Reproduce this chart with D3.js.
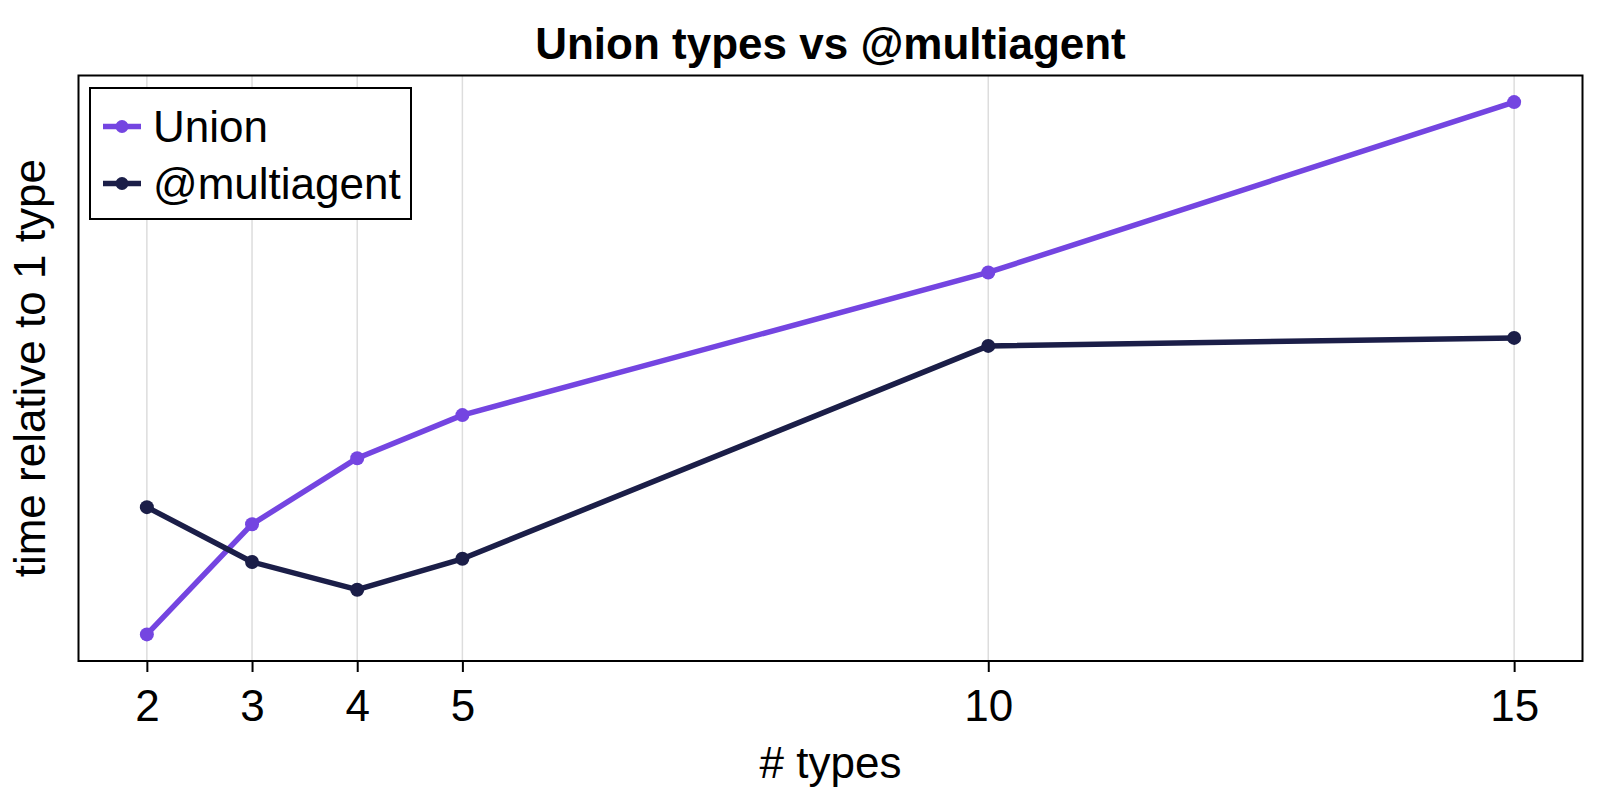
<!DOCTYPE html>
<meta charset="utf-8">
<title>Union types vs @multiagent</title>
<style>
  body { margin: 0; background: #fff; }
  text { font-family: "Liberation Sans", Arial, Helvetica, sans-serif; fill: #000; }
</style>
<body>
<div id="chart"></div>
<script src="https://cdn.jsdelivr.net/npm/d3@7"></script>
<script>

// data
var nTypes = [2, 3, 4, 5, 10, 15];
var unionTimes = [1.000, 1.207, 1.331, 1.412, 1.680, 2.000];
var multiagentTimes = [1.239, 1.136, 1.084, 1.142, 1.542, 1.557];
var seriesNames = ["Union", "@multiagent"];
var seriesColors = ["#7445e1", "#1b1e48"];

// dimensões
var W = 1600, H = 800;
var margin = {top: 75.5, right: 17.5, bottom: 139, left: 78.5},
    width = W - margin.left - margin.right,
    height = H - margin.top - margin.bottom;
var fs = 44;

var svg = d3.select("#chart").append("svg")
    .attr("width", W)
    .attr("height", H);

var g = svg.append("g")
    .attr("transform", "translate(" + margin.left + "," + margin.top + ")");

// escalas (5% de folga como no Makie)
var xr = d3.extent(nTypes), xpad = (xr[1] - xr[0]) * 0.05;
var x = d3.scaleLinear()
    .domain([xr[0] - xpad, xr[1] + xpad])
    .range([0, width]);

var all = unionTimes.concat(multiagentTimes);
var yr = d3.extent(all), ypad = (yr[1] - yr[0]) * 0.05;
var y = d3.scaleLinear()
    .domain([yr[0] - ypad, yr[1] + ypad])
    .range([height, 0]);

// grade vertical
g.selectAll(".grid")
    .data(nTypes)
    .enter().append("line")
      .attr("x1", function(d) { return x(d); })
      .attr("x2", function(d) { return x(d); })
      .attr("y1", 0)
      .attr("y2", height)
      .attr("stroke", "#dddddd")
      .attr("stroke-width", 1.5);

// eixo x
var xAxis = g.append("g")
    .attr("transform", "translate(0," + height + ")")
    .call(d3.axisBottom(x).tickValues(nTypes).tickSize(11).tickPadding(18).tickFormat(d3.format("d")));
xAxis.select(".domain").remove();
xAxis.selectAll(".tick line").attr("stroke", "#000").attr("stroke-width", 2);
xAxis.selectAll(".tick text").attr("font-size", fs).attr("fill", "#000")
    .style("font-family", "'Liberation Sans', Arial, sans-serif");

// linhas
var line = d3.line()
    .x(function(d, i) { return x(nTypes[i]); })
    .y(function(d) { return y(d); });

[unionTimes, multiagentTimes].forEach(function(vals, k) {
  g.append("path")
      .datum(vals)
      .attr("d", line)
      .attr("fill", "none")
      .attr("stroke", seriesColors[k])
      .attr("stroke-width", 5.5)
      .attr("stroke-linejoin", "round");
  g.selectAll(".pt" + k)
      .data(vals)
      .enter().append("circle")
        .attr("cx", function(d, i) { return x(nTypes[i]); })
        .attr("cy", function(d) { return y(d); })
        .attr("r", 7)
        .attr("fill", seriesColors[k]);
});

// moldura
g.append("rect")
    .attr("width", width)
    .attr("height", height)
    .attr("fill", "none")
    .attr("stroke", "#000")
    .attr("stroke-width", 2);

// legenda
var leg = g.append("g").attr("transform", "translate(11.5,12.5)");
leg.append("rect")
    .attr("width", 321)
    .attr("height", 131)
    .attr("fill", "#fff")
    .attr("stroke", "#000")
    .attr("stroke-width", 2);
seriesNames.forEach(function(name, k) {
  var yy = 38.5 + k * 57;
  leg.append("line")
      .attr("x1", 13).attr("x2", 51)
      .attr("y1", yy).attr("y2", yy)
      .attr("stroke", seriesColors[k])
      .attr("stroke-width", 5.5);
  leg.append("circle")
      .attr("cx", 32).attr("cy", yy).attr("r", 6.5)
      .attr("fill", seriesColors[k]);
  leg.append("text")
      .attr("x", 63).attr("y", yy)
      .attr("dy", "0.36em")
      .attr("font-size", fs)
      .text(name);
});

// título e rótulos
svg.append("text")
    .attr("x", margin.left + width / 2)
    .attr("y", 59)
    .attr("text-anchor", "middle")
    .attr("font-size", fs)
    .attr("font-weight", "bold")
    .text("Union types vs @multiagent");

svg.append("text")
    .attr("x", margin.left + width / 2)
    .attr("y", 778)
    .attr("text-anchor", "middle")
    .attr("font-size", fs)
    .text("# types");

svg.append("text")
    .attr("transform", "translate(45," + (margin.top + height / 2) + ") rotate(-90)")
    .attr("text-anchor", "middle")
    .attr("font-size", fs)
    .text("time relative to 1 type");

</script>
</body>
